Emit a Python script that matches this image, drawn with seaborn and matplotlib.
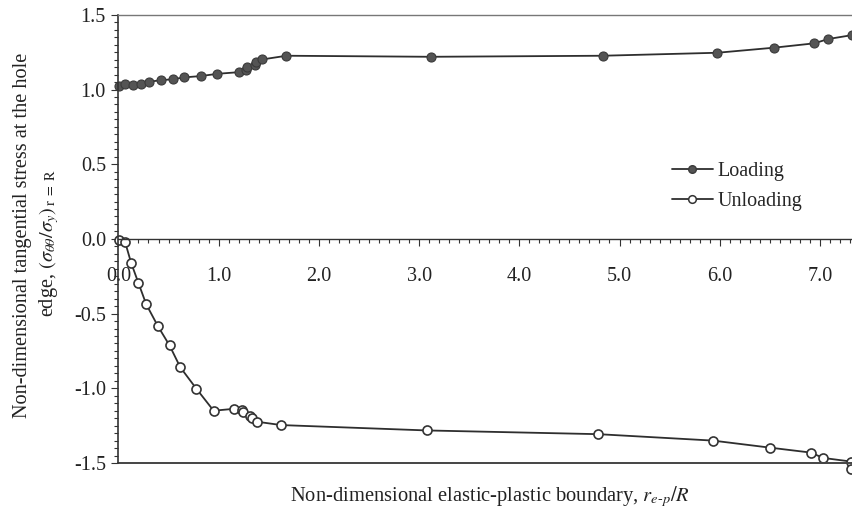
import numpy as np
import pandas as pd
import matplotlib
matplotlib.use("Agg")
import matplotlib.pyplot as plt
from matplotlib.ticker import MultipleLocator, FormatStrFormatter
from matplotlib.lines import Line2D
import seaborn as sns

# Tangential stress at the hole edge vs. elastic-plastic boundary radius
loading_x = [0.007, 0.067, 0.15, 0.227, 0.307, 0.42, 0.547, 0.653, 0.823, 0.987,
             1.20, 1.277, 1.283, 1.36, 1.377, 1.433, 1.677, 3.117, 4.833, 5.977,
             6.543, 6.943, 7.083, 7.32]
loading_y = [1.025, 1.034, 1.029, 1.040, 1.052, 1.062, 1.069, 1.081, 1.090, 1.105,
             1.116, 1.130, 1.152, 1.163, 1.186, 1.201, 1.226, 1.219, 1.226, 1.246,
             1.280, 1.309, 1.338, 1.364]

unloading_x = [0.007, 0.067, 0.127, 0.20, 0.277, 0.393, 0.51, 0.617, 0.777, 0.95,
               1.157, 1.233, 1.24, 1.317, 1.333, 1.387, 1.623, 3.077, 4.79, 5.933,
               6.50, 6.907, 7.033, 7.307, 7.31]
unloading_y = [-0.005, -0.022, -0.161, -0.296, -0.437, -0.583, -0.713, -0.859, -1.002, -1.150,
               -1.137, -1.143, -1.161, -1.184, -1.200, -1.224, -1.246, -1.282, -1.307, -1.350,
               -1.397, -1.430, -1.466, -1.490, -1.540]

x_ticks = [0.0, 1.0, 2.0, 3.0, 4.0, 5.0, 6.0, 7.0]
y_ticks = [-1.5, -1.0, -0.5, 0.0, 0.5, 1.0, 1.5]

sns.set_theme(style="white")
plt.rcParams["font.family"] = ["Liberation Serif", "DejaVu Serif"]
plt.rcParams["mathtext.fontset"] = "stix"

load_df = pd.DataFrame({"x": loading_x, "y": loading_y})
unload_df = pd.DataFrame({"x": unloading_x, "y": unloading_y})

fig = plt.figure(figsize=(8.52, 5.14), dpi=100)
ax = fig.add_axes([0.139, 0.0992, 0.861, 0.872])

line_col = "#2e2e2e"
sns.lineplot(data=load_df, x="x", y="y", ax=ax, estimator=None, sort=False,
             color=line_col, linewidth=1.3, marker="o", markersize=6.5,
             markerfacecolor="#545454", markeredgecolor="#3a3a3a",
             markeredgewidth=0.8, clip_on=False)
sns.lineplot(data=unload_df, x="x", y="y", ax=ax, estimator=None, sort=False,
             color=line_col, linewidth=1.3, marker="o", markersize=6.5,
             markerfacecolor="white", markeredgecolor="#333333",
             markeredgewidth=1.2, clip_on=False)

ax.set_xlim(0, 7.32)
ax.set_ylim(-1.5, 1.5)

# x axis crosses at zero; the frame is closed by lines at the limits
ax.spines["right"].set_visible(False)
ax.spines["bottom"].set_position(("data", 0))
ax.spines["bottom"].set_color("#333333")
ax.spines["bottom"].set_linewidth(1.0)
ax.spines["left"].set_color("#333333")
ax.spines["left"].set_linewidth(1.2)
ax.spines["top"].set_color("#777777")
ax.spines["top"].set_linewidth(1.0)
ax.axhline(-1.5, color="#444444", linewidth=1.4, clip_on=False)

ax.set_xticks(x_ticks)
ax.set_yticks(y_ticks)
ax.xaxis.set_minor_locator(MultipleLocator(0.1))
ax.yaxis.set_minor_locator(MultipleLocator(0.05))
ax.xaxis.set_major_formatter(FormatStrFormatter("%.1f"))
ax.yaxis.set_major_formatter(FormatStrFormatter("%.1f"))
ax.tick_params(axis="x", which="both", direction="out", bottom=True, color="#333333",
               labelsize=14.5, pad=15, width=0.8, labelcolor="#222222")
ax.tick_params(axis="x", which="major", length=5)
ax.tick_params(axis="x", which="minor", length=3)
ax.tick_params(axis="y", which="both", direction="out", left=True, color="#333333",
               labelsize=14.5, pad=4, width=0.8, labelcolor="#222222")
ax.tick_params(axis="y", which="major", length=5)
ax.tick_params(axis="y", which="minor", length=3)

ax.set_xlabel("")
ax.set_ylabel("")
fig.text(0.575, 0.033, r"Non-dimensional elastic-plastic boundary, $r_{e\text{-}p}/R$",
         ha="center", va="center", fontsize=14.8, color="#222222")
fig.text(0.026, 0.543, "Non-dimensional tangential stress at the hole",
         rotation=90, ha="center", va="center", fontsize=14.6, color="#222222")
fig.text(0.058, 0.527, r"edge, $(\sigma_{\theta\theta}/\sigma_y)_{\,\mathrm{r\ =\ R}}$",
         rotation=90, ha="center", va="center", fontsize=14.6, color="#222222")

handles = [
    Line2D([], [], color=line_col, linewidth=1.3, marker="o", markersize=5.5,
           markerfacecolor="#545454", markeredgecolor="#3a3a3a"),
    Line2D([], [], color=line_col, linewidth=1.3, marker="o", markersize=5.5,
           markerfacecolor="white", markeredgecolor="#333333", markeredgewidth=1.1),
]
ax.legend(handles, ["Loading", "Unloading"], frameon=False, fontsize=14.5,
          handlelength=2.0, handletextpad=0.25, labelspacing=0.55, borderpad=0,
          borderaxespad=0, loc="center left", bbox_to_anchor=(0.755, 0.617))

fig.savefig("out.png", dpi=100)
